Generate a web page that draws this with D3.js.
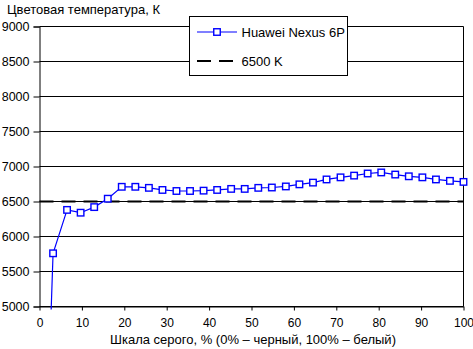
<!DOCTYPE html>
<html>
<head>
<meta charset="utf-8">
<script src="https://cdn.jsdelivr.net/npm/d3@7"></script>
<style>
  html, body { margin: 0; padding: 0; background: #fff; }
  svg { display: block; font-family: "Liberation Sans", Arial, sans-serif; }
</style>
</head>
<body>
<svg id="chart" width="473" height="349"></svg>
<script>
// Grey level steps, % (0% = black, 100% = white)
const greyLevels = [0, 3.2, 6.5, 9.7, 12.9, 16.1, 19.4, 22.6, 25.8, 29.0, 32.3, 35.5,
  38.7, 41.9, 45.2, 48.4, 51.6, 54.8, 58.1, 61.3, 64.5, 67.7, 71.0, 74.2,
  77.4, 80.6, 83.9, 87.1, 90.3, 93.5, 96.8, 100];
// Measured colour temperature, K
const nexusTemps = [0, 5760, 6380, 6340, 6420, 6540, 6710, 6710, 6695, 6665, 6650, 6650,
  6655, 6665, 6680, 6680, 6695, 6700, 6715, 6745, 6770, 6815, 6845, 6870,
  6900, 6915, 6885, 6860, 6845, 6815, 6795, 6780];
const referenceTemp = 6500;
const seriesNames = ["Huawei Nexus 6P", "6500 K"];
const xTicks = [0, 10, 20, 30, 40, 50, 60, 70, 80, 90, 100];
const yTicks = [5000, 5500, 6000, 6500, 7000, 7500, 8000, 8500, 9000];
const yTitle = "Цветовая температура, К";
const xTitle = "Шкала серого, % (0% – черный, 100% – белый)";

const svg = d3.select("#chart");
const plotL = 39.5, plotR = 463.5, plotT = 26.5, plotB = 306.5;

const x = d3.scaleLinear().domain([0, 100]).range([plotL, plotR]);
const y = d3.scaleLinear().domain([5000, 9000]).range([plotB, plotT]);

// horizontal gridlines
svg.append("g").selectAll("line").data(yTicks).join("line")
  .attr("x1", plotL).attr("x2", plotR)
  .attr("y1", d => y(d)).attr("y2", d => y(d))
  .attr("stroke", "#000").attr("stroke-width", 1);

// right frame edge
svg.append("line").attr("x1", plotR).attr("x2", plotR)
  .attr("y1", plotT).attr("y2", plotB).attr("stroke", "#000");

// y axis
const yAxis = svg.append("g").attr("transform", `translate(${plotL},0)`)
  .call(d3.axisLeft(y).tickValues(yTicks).tickSize(6).tickPadding(4).tickFormat(d3.format("d")));
yAxis.select(".domain").attr("stroke", "#000");
yAxis.selectAll("text").attr("font-size", 12.5).attr("fill", "#000")
  .attr("font-family", "Liberation Sans, Arial, sans-serif");

// x axis
const xAxis = svg.append("g").attr("transform", `translate(0,${plotB})`)
  .call(d3.axisBottom(x).tickValues(xTicks).tickSizeInner(4).tickSizeOuter(0).tickPadding(8));
xAxis.selectAll("text").attr("font-size", 12).attr("fill", "#000")
  .attr("font-family", "Liberation Sans, Arial, sans-serif");

// clip for the data series
svg.append("clipPath").attr("id", "plotClip").append("rect")
  .attr("x", plotL).attr("y", plotT - 6).attr("width", plotR - plotL + 6).attr("height", plotB - plotT + 9);

// 6500 K reference line
svg.append("line")
  .attr("x1", plotL).attr("x2", plotR)
  .attr("y1", y(referenceTemp)).attr("y2", y(referenceTemp))
  .attr("stroke", "#000").attr("stroke-width", 2).attr("stroke-dasharray", "14,8");

const points = greyLevels.map((g, i) => ({ g, t: nexusTemps[i] }));
const line = d3.line().x(d => x(d.g)).y(d => y(d.t));

const series = svg.append("g").attr("clip-path", "url(#plotClip)");
series.append("path").datum(points)
  .attr("d", line).attr("fill", "none").attr("stroke", "#0000ff").attr("stroke-width", 1.2);

const ms = 6.5;
series.selectAll("rect").data(points.filter(d => d.t >= 5000)).join("rect")
  .attr("x", d => x(d.g) - ms / 2).attr("y", d => y(d.t) - ms / 2)
  .attr("width", ms).attr("height", ms)
  .attr("fill", "#fff").attr("stroke", "#0000ff").attr("stroke-width", 1.4);

// legend
const lg = svg.append("g");
lg.append("rect").attr("x", 189.5).attr("y", 16.5).attr("width", 158).attr("height", 59)
  .attr("fill", "#fff").attr("stroke", "#000");
lg.append("line").attr("x1", 197).attr("x2", 237).attr("y1", 32).attr("y2", 32)
  .attr("stroke", "#0000ff").attr("stroke-width", 1.2);
lg.append("rect").attr("x", 217 - 3.25).attr("y", 32 - 3.25).attr("width", 6.5).attr("height", 6.5)
  .attr("fill", "#fff").attr("stroke", "#0000ff").attr("stroke-width", 1.4);
lg.append("line").attr("x1", 197).attr("x2", 233).attr("y1", 61).attr("y2", 61)
  .attr("stroke", "#000").attr("stroke-width", 2).attr("stroke-dasharray", "14,8");
lg.selectAll("text").data(seriesNames).join("text")
  .attr("x", 241.5).attr("y", (d, i) => i === 0 ? 36.5 : 65.5)
  .attr("font-size", 13).attr("fill", "#000").text(d => d);

// axis titles
svg.append("text").attr("x", 7).attr("y", 14).attr("font-size", 13).attr("fill", "#000").text(yTitle);
svg.append("text").attr("x", 253).attr("y", 344).attr("text-anchor", "middle")
  .attr("font-size", 13).attr("fill", "#000").text(xTitle);
</script>
</body>
</html>
